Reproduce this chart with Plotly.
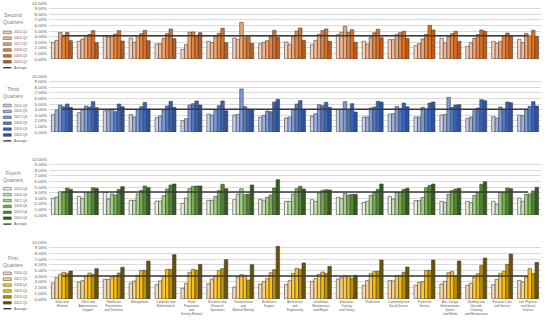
import plotly.graph_objects as go

W, H = 550, 322

categories = [
    "Sales and Related", "Office and Administrative Support",
    "Healthcare Practitioners and Technical", "Management",
    "Computer and Mathematical", "Food Preparation and Serving Related",
    "Business and Financial Operations", "Transportation and Material Moving",
    "Healthcare Support", "Architecture and Engineering",
    "Installation, Maintenance and Repair", "Education, Training, and Library",
    "Production", "Community and Social Service", "Protective Service",
    "Arts, Design, Entertainment, Sports, and Media",
    "Building and Grounds Cleaning and Maintenance",
    "Personal Care and Service", "Life, Physical, and Social Science",
]
category_labels = [
    "Sales and<br>Related", "Office and<br>Administrative<br>Support",
    "Healthcare<br>Practitioners<br>and Technical", "Management",
    "Computer and<br>Mathematical", "Food<br>Preparation<br>and<br>Serving Related",
    "Business and<br>Financial<br>Operations", "Transportation<br>and<br>Material Moving",
    "Healthcare<br>Support", "Architecture<br>and<br>Engineering",
    "Installation,<br>Maintenance<br>and Repair", "Education,<br>Training,<br>and Library",
    "Production", "Community and<br>Social Service", "Protective<br>Service",
    "Arts, Design,<br>Entertainment,<br>Sports,<br>and Media",
    "Building and<br>Grounds<br>Cleaning<br>and Maintenance",
    "Personal Care<br>and Service", "Life, Physical,<br>and Social<br>Science",
]

# ---- Second quarters (%)
q2_2015 = [2.98, 3.16, 4.05, 3.75, 2.68, 1.73, 3.16, 3.75, 2.74, 3.04, 2.56, 4.35, 3.16, 3.45, 2.38, 3.69, 2.26, 3.16, 3.51]
q2_2016 = [3.33, 3.57, 3.93, 2.98, 2.74, 2.56, 2.92, 3.45, 2.98, 2.62, 3.33, 4.76, 2.68, 3.45, 2.74, 2.86, 2.92, 2.80, 2.92]
q2_2017 = [4.76, 4.17, 4.05, 4.10, 3.69, 4.76, 3.99, 6.55, 3.27, 3.99, 4.40, 5.83, 3.93, 4.35, 3.57, 3.99, 3.69, 3.16, 4.58]
q2_2018 = [3.99, 4.40, 4.46, 4.52, 4.52, 4.82, 4.58, 3.81, 4.10, 5.00, 5.06, 4.76, 4.70, 4.70, 4.40, 4.52, 4.35, 4.10, 4.17]
q2_2019 = [4.76, 5.06, 5.06, 5.12, 5.36, 4.17, 5.48, 3.99, 5.12, 5.54, 5.36, 5.24, 5.30, 4.94, 6.01, 4.94, 5.18, 4.64, 5.12]
q2_2020 = [3.27, 2.92, 3.21, 3.27, 3.63, 4.70, 2.92, 2.80, 3.87, 3.33, 3.16, 2.98, 3.81, 3.69, 5.18, 3.16, 4.94, 4.05, 4.05]
q2_average = 4.15

# ---- Third quarters (%)
q3_2015 = [3.10, 3.45, 3.80, 3.10, 2.56, 2.02, 3.20, 3.04, 2.68, 2.50, 2.86, 3.99, 2.68, 3.20, 2.68, 3.04, 2.44, 2.74, 3.04]
q3_2016 = [3.93, 3.93, 3.80, 2.68, 2.86, 2.38, 3.04, 3.15, 2.98, 2.68, 3.27, 4.05, 2.68, 3.27, 2.68, 3.15, 2.68, 2.50, 2.92]
q3_2017 = [4.82, 4.64, 4.10, 3.99, 3.93, 4.82, 3.99, 7.68, 3.75, 4.05, 4.88, 5.42, 4.29, 4.58, 4.40, 6.19, 3.80, 4.46, 4.05]
q3_2018 = [4.52, 4.46, 3.63, 4.52, 4.64, 5.06, 4.70, 4.52, 3.63, 5.00, 4.70, 3.99, 4.46, 4.23, 4.10, 4.40, 4.29, 4.05, 4.58]
q3_2019 = [5.00, 5.42, 5.00, 5.30, 5.48, 5.54, 5.54, 4.05, 5.36, 5.60, 5.30, 5.06, 5.48, 5.18, 5.18, 4.82, 5.77, 5.36, 5.42]
q3_2020 = [4.40, 4.35, 4.52, 4.10, 4.40, 4.82, 3.80, 3.93, 5.83, 3.99, 4.40, 3.57, 5.36, 4.52, 5.36, 4.88, 5.60, 5.24, 4.64]
q3_average = 4.05

# ---- Fourth quarters (%)
q4_2015 = [2.98, 3.33, 4.05, 2.62, 2.50, 2.08, 2.62, 2.74, 2.80, 2.44, 2.74, 3.15, 2.26, 3.33, 2.56, 2.44, 2.44, 2.44, 3.04]
q4_2016 = [3.21, 2.98, 2.86, 2.62, 2.50, 3.04, 2.62, 3.75, 2.62, 2.44, 2.44, 2.98, 2.44, 2.86, 2.56, 2.26, 2.20, 1.90, 2.44]
q4_2017 = [4.17, 4.05, 3.75, 3.75, 3.45, 4.70, 3.33, 4.70, 3.15, 3.75, 3.93, 3.87, 3.51, 4.05, 3.15, 3.69, 3.51, 3.99, 3.69]
q4_2018 = [4.05, 4.05, 3.57, 4.40, 4.64, 5.12, 4.35, 3.63, 3.57, 4.70, 4.40, 3.57, 4.05, 4.05, 4.88, 4.35, 4.05, 4.05, 3.75]
q4_2019 = [4.82, 4.88, 4.58, 5.18, 5.36, 5.18, 5.48, 3.75, 4.82, 5.12, 4.52, 3.69, 4.58, 4.58, 5.30, 4.64, 5.48, 4.82, 4.29]
q4_2020 = [4.58, 4.76, 5.06, 4.88, 5.54, 5.18, 4.70, 5.36, 6.31, 4.64, 4.46, 3.69, 5.54, 4.76, 5.54, 4.76, 5.95, 4.70, 4.94]
q4_average = 4.10

# ---- First quarters (%)
q1_2016 = [2.80, 2.98, 3.45, 2.80, 2.51, 1.87, 2.69, 2.10, 2.63, 2.57, 3.10, 3.51, 2.40, 3.27, 2.40, 2.63, 2.40, 2.51, 3.27]
q1_2017 = [3.74, 3.22, 3.45, 3.16, 3.16, 2.75, 3.51, 3.86, 3.04, 3.22, 3.57, 3.74, 3.27, 3.16, 2.92, 3.10, 2.75, 3.45, 2.98]
q1_2018 = [4.33, 3.98, 3.80, 4.15, 3.98, 4.68, 4.04, 4.27, 3.57, 4.50, 4.33, 4.09, 4.44, 4.09, 3.04, 4.62, 3.86, 4.50, 3.86]
q1_2019 = [4.68, 4.56, 4.09, 5.03, 5.20, 5.20, 5.03, 4.15, 4.62, 5.38, 4.74, 3.98, 4.80, 4.09, 5.03, 4.80, 4.44, 4.85, 5.32]
q1_2020 = [4.50, 4.33, 4.56, 5.03, 5.20, 5.03, 5.32, 3.33, 5.15, 5.20, 4.50, 3.63, 4.85, 4.68, 5.03, 4.09, 5.91, 6.08, 4.50]
q1_2021 = [4.91, 5.32, 5.56, 6.67, 7.78, 6.08, 6.90, 6.02, 9.24, 6.32, 5.73, 4.15, 6.84, 5.61, 6.84, 6.67, 7.19, 7.89, 6.43]
q1_average = 4.03

q2_names = ["2015-Q2", "2016-Q2", "2017-Q2", "2018-Q2", "2019-Q2", "2020-Q2"]
q3_names = ["2015-Q3", "2016-Q3", "2017-Q3", "2018-Q3", "2019-Q3", "2020-Q3"]
q4_names = ["2015-Q4", "2016-Q4", "2017-Q4", "2018-Q4", "2019-Q4", "2020-Q4"]
q1_names = ["2016-Q1", "2017-Q1", "2018-Q1", "2019-Q1", "2020-Q1", "2021-Q1"]

q2_colors = ["#FAD3B9", "#F6B99A", "#F4A46E", "#EE8236", "#E0701F", "#C05A14"]
q3_colors = ["#C5D1EB", "#9EB3E0", "#7C99D8", "#4E79CB", "#3563C0", "#2A52A3"]
q4_colors = ["#E8F3E0", "#C8E2B5", "#A5D08A", "#75B04B", "#4F8A2E", "#345A1E"]
q1_colors = ["#F6DDB6", "#FDD38E", "#FFCB3A", "#FFC000", "#BF9000", "#6B5200"]

panel_titles = ["Second<br>Quarters", "Third<br>Quarters", "Fourth<br>Quarters", "First<br>Quarters"]

panels = [
    (q2_names, [q2_2015, q2_2016, q2_2017, q2_2018, q2_2019, q2_2020], q2_colors, q2_average),
    (q3_names, [q3_2015, q3_2016, q3_2017, q3_2018, q3_2019, q3_2020], q3_colors, q3_average),
    (q4_names, [q4_2015, q4_2016, q4_2017, q4_2018, q4_2019, q4_2020], q4_colors, q4_average),
    (q1_names, [q1_2016, q1_2017, q1_2018, q1_2019, q1_2020, q1_2021], q1_colors, q1_average),
]

# layout geometry in pixels
plot_left, plot_right = 49, 541
panel_px = [(3, 59), (76, 132), (159, 215), (242, 299)]   # (top=10%, bottom=0%)
title_py = [18, 92, 176, 261]
legend_first_py = [32.3, 105.5, 188.7, 273.3]
legend_step = 5.9

def px(x):
    return x / W

def py(y):
    return 1 - y / H

fig = go.Figure()
shapes = []
annotations = []
grey = "#595959"

for i, (names, series, colors, avg) in enumerate(panels):
    ax = "" if i == 0 else str(i + 1)
    for name, vals, col in zip(names, series, colors):
        fig.add_trace(go.Bar(
            x=categories, y=vals, name=name, xaxis="x" + ax, yaxis="y" + ax,
            marker=dict(color=col, line=dict(color="#404040", width=0.6)),
            showlegend=False,
        ))
    fig.add_trace(go.Scatter(
        x=[categories[0], categories[-1]], y=[avg, avg], mode="lines",
        name="Average", xaxis="x" + ax, yaxis="y" + ax,
        line=dict(color="#3A3A3A", width=1.4), showlegend=False,
    ))
    top, bottom = panel_px[i]
    fig.update_layout(**{
        "xaxis" + ax: dict(
            domain=[px(plot_left), px(plot_right)], anchor="y" + ax,
            type="category", categoryorder="array", categoryarray=categories,
            range=[-0.5, len(categories) - 0.5],
            showticklabels=(i == 3), tickvals=categories, ticktext=category_labels,
            tickfont=dict(size=3, color=grey, family="Liberation Sans"),
            ticks="", ticklen=0, showline=False, showgrid=False, automargin=False,
        ),
        "yaxis" + ax: dict(
            domain=[py(bottom), py(top)], anchor="x" + ax,
            range=[0, 10], dtick=1, tickformat=".2f", ticksuffix="%",
            tickfont=dict(size=4.4, color=grey, family="Liberation Sans"),
            gridcolor="#DADADA", gridwidth=0.6, zeroline=False, showline=False,
            ticks="", automargin=False, ticklabelstandoff=1,
        ),
    })
    # legend block (drawn by hand: plotly legend rows cannot be this small)
    annotations.append(dict(
        x=px(13), y=py(title_py[i]), xref="paper", yref="paper",
        text=panel_titles[i], showarrow=False, xanchor="center", yanchor="middle",
        font=dict(size=5.2, color="#7F7F7F", family="Liberation Sans"),
    ))
    labels = list(names) + ["Average"]
    for j, lab in enumerate(labels):
        yy = legend_first_py[i] + j * legend_step
        if j < len(names):
            shapes.append(dict(
                type="rect", xref="paper", yref="paper",
                x0=px(3.3), x1=px(11.3), y0=py(yy + 1.3), y1=py(yy - 1.3),
                fillcolor=colors[j], line=dict(color="#404040", width=0.5),
            ))
        else:
            shapes.append(dict(
                type="line", xref="paper", yref="paper",
                x0=px(3.3), x1=px(11.3), y0=py(yy), y1=py(yy),
                line=dict(color="#3A3A3A", width=1.4),
            ))
        annotations.append(dict(
            x=px(12), y=py(yy), xref="paper", yref="paper", text=lab,
            showarrow=False, xanchor="left", yanchor="middle",
            font=dict(size=3.4, color=grey, family="Liberation Sans"),
        ))

fig.update_layout(
    width=W, height=H, margin=dict(l=0, r=0, t=0, b=0),
    paper_bgcolor="white", plot_bgcolor="white",
    barmode="group", bargap=0.19, bargroupgap=0,
    shapes=shapes, annotations=annotations,
    font=dict(family="Liberation Sans"),
)

fig.write_html(
    "out.html",
    config={"displayModeBar": False},
    post_script="document.body.style.margin='0';document.body.style.overflow='hidden';",
)
